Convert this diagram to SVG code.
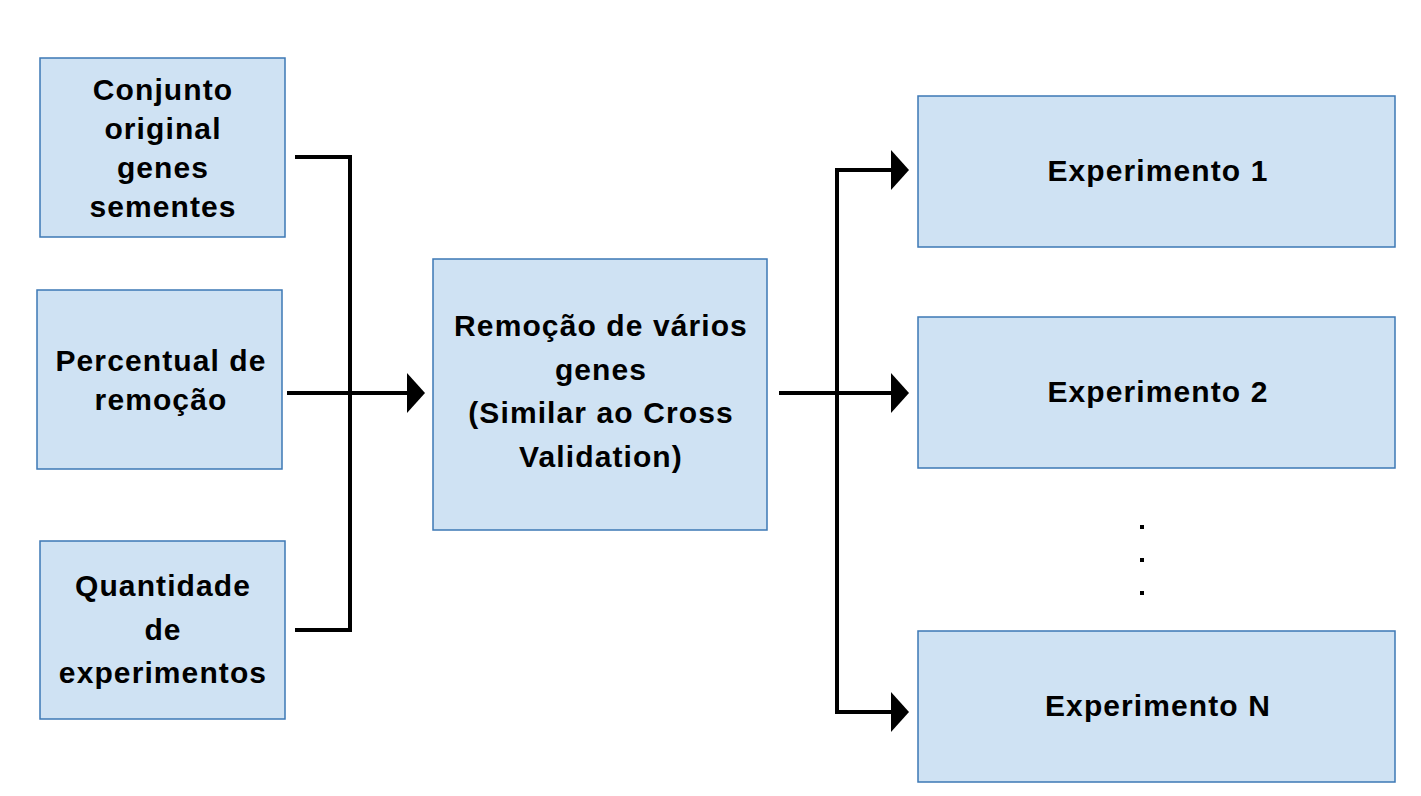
<svg xmlns="http://www.w3.org/2000/svg" width="1421" height="796" viewBox="0 0 1421 796">
<defs>
<style>
.box{fill:#cfe2f3;stroke:#3d78b5;stroke-width:1.5}
.t{font-family:"Liberation Sans",Arial,sans-serif;font-weight:bold;font-size:30px;letter-spacing:1.1px;fill:#000;text-anchor:middle}
.c{fill:none;stroke:#000;stroke-width:4}
</style>
<marker id="ah" markerWidth="18" markerHeight="40" refX="0" refY="20" orient="auto" markerUnits="userSpaceOnUse">
<path d="M0,0 L18,20 L0,40 Z" fill="#000"/>
</marker>
</defs>
<rect width="1421" height="796" fill="#fff"/>
<g id="connectors">
<polyline class="c" points="295,157 350,157 350,630 295,630"/>
<line class="c" x1="287" y1="393" x2="407" y2="393" marker-end="url(#ah)"/>
<line class="c" x1="779" y1="393" x2="891" y2="393" marker-end="url(#ah)"/>
<polyline class="c" points="891,170 837,170 837,712 891,712" marker-end="url(#ah)"/>
<line class="c" x1="837" y1="170" x2="891" y2="170" marker-end="url(#ah)"/>
</g>
<g id="n1"><rect class="box" x="40" y="58" width="245" height="179"/>
<text class="t" x="163" y="100">Conjunto</text><text class="t" x="163" y="139">original</text><text class="t" x="163" y="178">genes</text><text class="t" x="163" y="217">sementes</text></g>
<g id="n2"><rect class="box" x="37" y="290" width="245" height="179"/>
<text class="t" x="161" y="371">Percentual de</text><text class="t" x="161" y="410">remoção</text></g>
<g id="n3"><rect class="box" x="40" y="541" width="245" height="178"/>
<text class="t" x="163" y="596">Quantidade</text><text class="t" x="163" y="640">de</text><text class="t" x="163" y="683">experimentos</text></g>
<g id="center"><rect class="box" x="433" y="259" width="334" height="271"/>
<text class="t" x="601" y="336">Remoção de vários</text><text class="t" x="601" y="380">genes</text><text class="t" x="601" y="423">(Similar ao Cross</text><text class="t" x="601" y="467">Validation)</text></g>
<g id="e1"><rect class="box" x="918" y="96" width="477" height="151"/>
<text class="t" x="1158" y="181">Experimento 1</text></g>
<g id="e2"><rect class="box" x="918" y="317" width="477" height="151"/>
<text class="t" x="1158" y="402">Experimento 2</text></g>
<g id="dots" fill="#000"><rect x="1140" y="525" width="4" height="4"/><rect x="1140" y="558" width="4" height="4"/><rect x="1140" y="591" width="4" height="4"/></g>
<g id="eN"><rect class="box" x="918" y="631" width="477" height="151"/>
<text class="t" x="1158" y="716">Experimento N</text></g>
</svg>
